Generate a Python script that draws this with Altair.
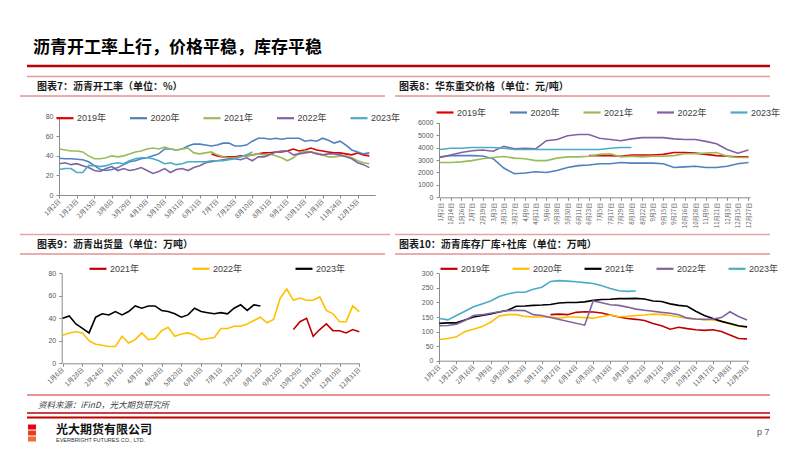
import altair as alt
import pandas as pd

# ---------------- data ----------------
years5 = ["2019年", "2020年", "2021年", "2022年", "2023年"]
years3 = ["2021年", "2022年", "2023年"]

# Chart 7: asphalt operating rate (%), weekly index
rate_ticks = ["1月2日", "1月23日", "2月15日", "3月8日", "3月29日", "4月19日", "5月10日", "5月31日",
              "6月21日", "7月7日", "7月25日", "8月10日", "8月31日", "9月21日", "10月13日", "11月3日",
              "11月24日", "12月15日"]
rate_2019_start = 26
rate_2019 = [42, 40, 39, 39, 39, 40, 40, 41, 42, 43, 43, 44, 44, 45, 47, 45, 46, 48, 46, 45,
             44, 43, 43, 42, 41, 43, 41, 40]
rate_2020 = [37.5, 37, 37, 36.5, 36, 34, 30, 26, 25, 26, 28, 31, 34, 35, 37, 38, 40, 42, 47, 47,
             46, 47, 50, 52, 52, 51, 50, 51, 53, 53, 50, 50, 51, 55, 58, 58, 57, 58, 57, 58,
             58, 58, 55, 56, 55, 58, 56, 53, 55, 51, 46, 44, 42, 43]
rate_2021 = [47, 46, 45, 45, 44, 40, 37, 37, 38, 40, 39, 40, 42, 44, 45, 47, 48, 47, 49, 47,
             46, 47, 48, 43, 42, 43, 44, 41, 39, 38, 38, 39, 40, 41, 42, 41, 42, 40, 38, 35,
             38, 43, 45, 44, 43, 41, 39, 39, 40, 40, 38, 35, 33, 32]
rate_2022 = [32, 33, 31, 32, 30, 28, 25, 24, 27, 29, 25, 27, 25, 26, 28, 25, 22, 24, 27, 23,
             26, 27, 25, 28, 30, 33, 34, 35, 36, 37, 37, 36, 38, 35, 39, 39, 41, 44, 45, 45,
             41, 42, 43, 44, 42, 41, 42, 42, 41, 39, 37, 33, 31, 28]
rate_2023 = [26, 27, 27, 23, 23, 30, 30, 29, 30, 32, 33, 32, 35, 37, 38, 38, 37, 35, 32, 33,
             31, 32, 34, 34, 34, 34, 35, 35, 35, 36, 37, 39, 41, 44]

# Chart 8: East China heavy-traffic asphalt price (yuan/ton), one point per label
price_ticks = ["1月2日", "1月14日", "1月26日", "2月7日", "2月19日", "3月3日", "3月15日", "3月27日",
               "4月9日", "4月21日", "5月6日", "5月18日", "5月30日", "6月11日", "6月23日", "7月5日",
               "7月17日", "7月29日", "8月10日", "8月22日", "9月3日", "9月15日", "9月27日", "10月16日",
               "10月28日", "11月9日", "11月21日", "12月3日", "12月15日", "12月27日"]
price_2019_start = 14
price_2019 = [3350, 3350, 3350, 3300, 3400, 3400, 3400, 3450, 3600, 3600, 3550, 3450, 3350, 3300,
              3250, 3250]
price_2020 = [3250, 3350, 3350, 3350, 3320, 3100, 2350, 1900, 1950, 2050, 2000, 2150, 2400, 2550,
              2600, 2700, 2700, 2800, 2750, 2750, 2750, 2700, 2400, 2450, 2500, 2400, 2400, 2500,
              2700, 2800]
price_2021 = [2800, 2800, 2850, 2950, 3100, 3200, 3280, 3150, 3100, 2950, 2950, 3150, 3250, 3250,
              3300, 3450, 3500, 3250, 3300, 3250, 3300, 3300, 3350, 3500, 3500, 3550, 3600, 3300,
              3200, 3200]
price_2022 = [3200, 3400, 3600, 3750, 3800, 3700, 4100, 3900, 3950, 3900, 4550, 4650, 4950, 5050,
              5050, 4750, 4650, 4550, 4700, 4800, 4800, 4800, 4700, 4650, 4650, 4500, 4300, 3850,
              3550, 3800]
price_2023 = [3850, 3950, 3950, 4000, 4000, 4000, 3950, 3850, 3850, 3850, 3850, 3850, 3850, 3850,
              3850, 3850, 3950, 4000, 4000]

# Chart 9: asphalt shipments (10k tons), weekly index
ship_ticks = ["1月6日", "1月28日", "2月24日", "3月17日", "4月7日", "4月28日", "5月20日", "6月10日",
              "7月1日", "7月22日", "8月12日", "9月23日", "10月29日", "11月19日", "12月10日", "12月31日"]
ship_2021_start = 35
ship_2021 = [30, 37, 40, 24, 30, 35, 29, 29, 27, 30, 28]
ship_2022 = [25, 27, 28, 27, 20, 17, 16, 15, 15, 24, 18, 21, 27, 21, 22, 29, 32, 24, 26, 27,
             25, 21, 22, 23, 31, 31, 33, 33, 35, 38, 41, 36, 39, 58, 66, 56, 58, 56, 56, 59,
             47, 44, 37, 37, 51, 46]
ship_2023 = [40, 42, 35, 31, 27, 41, 44, 43, 46, 43, 46, 51, 49, 51, 51, 47, 46, 44, 41, 43,
             49, 46, 45, 44, 45, 44, 49, 52, 47, 52, 51]

# Chart 10: asphalt inventory, factory + social (10k tons), two points per label
inv_ticks = ["1月2日", "1月21日", "2月16日", "3月9日", "3月30日", "4月20日", "5月11日", "5月27日",
             "6月14日", "6月30日", "7月18日", "8月3日", "8月22日", "9月12日", "10月8日", "10月27日",
             "11月17日", "12月8日", "12月29日"]
inv_2019_start = 13
inv_2019 = [158, 160, 158, 166, 168, 167, 164, 157, 150, 145, 142, 138, 128, 120, 108, 115,
            110, 106, 104, 106, 100, 88, 76, 75]
inv_2020 = [73, 76, 82, 100, 108, 117, 132, 153, 158, 158, 152, 150, 150, 150, 146, 150, 150,
            148, 146, 152, 157, 151, 152, 155, 157, 160, 158, 155, 150, 146, 143, 141, 140, 135,
            126, 118, 115]
inv_2021 = [128, 130, 130, 140, 150, 155, 160, 167, 173, 187, 188, 190, 191, 193, 198, 200, 200,
            202, 207, 210, 211, 213, 213, 214, 212, 205, 203, 195, 190, 187, 170, 155, 145, 135,
            128, 120, 116]
inv_2022_idx = list(range(0, 14)) + list(range(17, 37))
inv_2022 = [120, 121, 125, 138, 155, 158, 163, 168, 172, 173, 172, 158, 155, 148,
            122, 205, 199, 192, 190, 184, 177, 173, 170, 166, 163, 158, 146, 143, 142, 143,
            148, 168, 152, 140]
inv_2023 = [145, 140, 155, 170, 185, 195, 205, 220, 229, 235, 235, 245, 252, 272, 275, 273, 271,
            268, 265, 257, 248, 240, 238, 239]

# ---------------- styling / layout ----------------
W, H = 786, 435
CJK = "Noto Sans CJK SC"
NUM = "Liberation Sans, Noto Sans CJK SC"
AX = "#8C8C8C"
LAB = "#595959"

colors_a = ["#E00000", "#4F81BD", "#9BBB59", "#8064A2", "#4BACC6"]
colors_9 = ["#C00000", "#FFC000", "#000000"]
colors_10 = ["#C00000", "#FFC000", "#000000", "#8064A2", "#4BACC6"]


def long_df(items):
    rows = []
    for name, xs, vs in items:
        for x, v in zip(xs, vs):
            rows.append({"x": x, "v": v, "s": name})
    return pd.DataFrame(rows)


def panel(df, xdom, xpage, tick_labels, step, ydom, ypage, yticks, yaxis_x,
          series, colors, angle, leg_xy, col_pad, xlab_size=6.5):
    xr = [xpage[0] - 8, xpage[1] - 8]
    yr = [ypage[0] - 8, ypage[1] - 8]
    arr = "[" + ",".join("'" + t + "'" for t in tick_labels) + "]"
    xvals = [i * step for i in range(len(tick_labels))]
    xaxis = alt.Axis(orient="bottom", offset=(ypage[0] - 8) - H, values=xvals,
                     labelExpr=arr + "[round(datum.value/" + str(step) + ")]",
                     labelAngle=angle, labelAlign="right", labelBaseline="middle",
                     labelFontSize=xlab_size, labelFont=CJK, labelColor=LAB,
                     labelOverlap=False, labelFlush=False, labelPadding=2,
                     domainColor=AX, tickColor=AX, tickSize=3, grid=False, title=None)
    yaxis = alt.Axis(orient="left", offset=-(yaxis_x - 8), values=yticks, format="d",
                     labelFontSize=7, labelFont=NUM, labelColor=LAB, labelFlush=False,
                     labelPadding=3, domainColor=AX, tickColor=AX, tickSize=3,
                     grid=False, title=None)
    legend = alt.Legend(orient="none", legendX=leg_xy[0] - 8, legendY=leg_xy[1] - 8 - 8.5,
                        direction="horizontal", columns=len(series), title=None,
                        symbolType="stroke", symbolSize=289, symbolStrokeWidth=2.2,
                        labelFontSize=9, labelFont=NUM, labelColor="#404040",
                        labelOffset=2, columnPadding=col_pad, padding=0, rowPadding=0)
    return alt.Chart(df).mark_line(strokeWidth=1.6).encode(
        x=alt.X("x:Q", scale=alt.Scale(domain=xdom, range=xr, nice=False, zero=False), axis=xaxis),
        y=alt.Y("v:Q", scale=alt.Scale(domain=ydom, range=yr, nice=False, zero=True), axis=yaxis),
        color=alt.Color("s:N", scale=alt.Scale(domain=series, range=colors), legend=legend),
    )


df7 = long_df([
    ("2019年", range(rate_2019_start, rate_2019_start + len(rate_2019)), rate_2019),
    ("2020年", range(len(rate_2020)), rate_2020),
    ("2021年", range(len(rate_2021)), rate_2021),
    ("2022年", range(len(rate_2022)), rate_2022),
    ("2023年", range(len(rate_2023)), rate_2023),
])
df8 = long_df([
    ("2019年", range(price_2019_start, price_2019_start + len(price_2019)), price_2019),
    ("2020年", range(len(price_2020)), price_2020),
    ("2021年", range(len(price_2021)), price_2021),
    ("2022年", range(len(price_2022)), price_2022),
    ("2023年", range(len(price_2023)), price_2023),
])
df9 = long_df([
    ("2021年", range(ship_2021_start, ship_2021_start + len(ship_2021)), ship_2021),
    ("2022年", range(len(ship_2022)), ship_2022),
    ("2023年", range(len(ship_2023)), ship_2023),
])
df10 = long_df([
    ("2019年", range(inv_2019_start, inv_2019_start + len(inv_2019)), inv_2019),
    ("2020年", range(len(inv_2020)), inv_2020),
    ("2021年", range(len(inv_2021)), inv_2021),
    ("2022年", inv_2022_idx, inv_2022),
    ("2023年", range(len(inv_2023)), inv_2023),
])

c7 = panel(df7, [0, 54], [59.3, 375.2], rate_ticks, 3, [0, 80], [195, 116.7],
           [0, 20, 40, 60, 80], 59, years5, colors_a, -45, (55, 116.7), 18.5)
c8 = panel(df8, [0, 29.15], [440, 750], price_ticks, 1, [0, 6000], [197.3, 122.7],
           [0, 1000, 2000, 3000, 4000, 5000, 6000], 439, years5, colors_a, -90, (435, 111), 18.5,
           xlab_size=6)
c9 = panel(df9, [0, 45], [62.7, 359.3], ship_ticks, 3, [0, 80], [363.3, 273.3],
           [0, 20, 40, 60, 80], 61.7, years3, colors_9, -45, (88, 267.3), 48)
c10 = panel(df10, [0, 36.2], [439.3, 748.8], inv_ticks, 2, [0, 300], [360.7, 273.3],
            [0, 50, 100, 150, 200, 250, 300], 439, years5, colors_10, -45, (439, 267.3), 17)

# ---------------- decorations ----------------
one = pd.DataFrame({"a": [0]})
rules = [
    (27, 770, 66, "#C00000", 2.5),
    (27, 770, 76.5, "#E59A9A", 1.6),
    (20, 385, 96, "#D65C5C", 1),
    (395, 770, 96, "#D65C5C", 1),
    (20, 390, 234.5, "#E8A3A3", 1.6),
    (395, 770, 234.5, "#E8A3A3", 1.6),
    (20, 385, 254, "#D65C5C", 1),
    (395, 770, 254, "#D65C5C", 1),
    (27, 770, 395, "#E07070", 1.3),
    (27, 770, 413, "#C00000", 1.6),
    (27, 770, 417.5, "#C00000", 2.2),
]
deco = []
for x1, x2, y, col, sw in rules:
    deco.append(alt.Chart(one).mark_rule(color=col, strokeWidth=sw).encode(
        x=alt.value(x1 - 8), x2=alt.value(x2 - 8), y=alt.value(y - 8)))

texts = [
    ("沥青开工率上行，价格平稳，库存平稳", 33, 48, 17, "bold", "normal", "#000000", CJK),
    ("图表7：沥青开工率（单位：%）", 37, 87, 10, "bold", "normal", "#1a1a1a", CJK),
    ("图表8：华东重交价格（单位：元/吨）", 399, 87, 10, "bold", "normal", "#1a1a1a", CJK),
    ("图表9：沥青出货量（单位：万吨）", 37, 245, 10, "bold", "normal", "#1a1a1a", CJK),
    ("图表10：沥青库存厂库+社库（单位：万吨）", 399, 245, 10, "bold", "normal", "#1a1a1a", CJK),
    ("资料来源：iFinD，光大期货研究所", 38, 405, 8.5, "normal", "italic", "#404040", CJK),
    ("光大期货有限公司", 56, 430, 12, "bold", "normal", "#111111", CJK),
    ("EVERBRIGHT FUTURES CO., LTD.", 56, 439.5, 5.5, "normal", "normal", "#333333", NUM),
    ("p 7", 757, 432, 9, "normal", "normal", "#595959", NUM),
]
for t, x, y, size, weight, style, col, font in texts:
    deco.append(alt.Chart(one).mark_text(text=t, align="left", baseline="middle", fontSize=size,
                                         fontWeight=weight, fontStyle=style, color=col, font=font
                                         ).encode(x=alt.value(x - 8), y=alt.value(y - 8)))

# logo (stylised red blocks)
for y, col in [(427, "#E60012"), (433, "#EE3A24"), (439, "#F26B3A")]:
    deco.append(alt.Chart(one).mark_rule(color=col, strokeWidth=5).encode(
        x=alt.value(28 - 8), x2=alt.value(36 - 8), y=alt.value(y - 8)))

chart = alt.layer(*deco, c7, c8, c9, c10).resolve_scale(
    x="independent", y="independent", color="independent"
).resolve_axis(x="independent", y="independent").resolve_legend(color="independent").properties(
    width=W, height=H, autosize=alt.AutoSizeParams(type="none"), padding=0, background="white"
).configure_view(stroke="transparent")

chart.save("out.html", embed_options={"renderer": "svg", "actions": False})
